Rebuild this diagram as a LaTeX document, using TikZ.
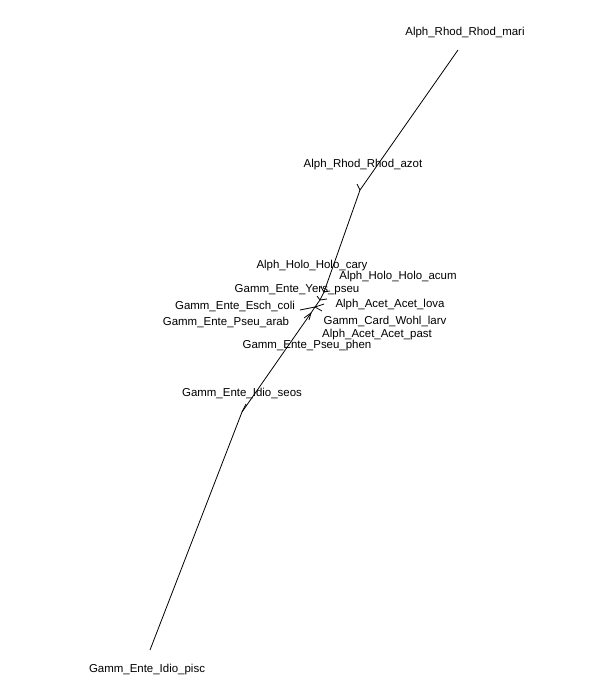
\documentclass[tikz,border=0pt]{standalone}
\usepackage{fontspec}
\setmainfont{Liberation Sans}

\tikzset{
  branch/.style={draw=black, line width=0.6pt},
  taxon/.style={inner sep=0pt, font=\fontsize{8.6}{10}\selectfont}
}

\begin{document}
\begin{tikzpicture}[x=0.75pt, y=-0.75pt]
\useasboundingbox (0,0) rectangle (608,700);
% internal nodes
\coordinate (nA) at (360,190);
\coordinate (nB) at (324,292);
\coordinate (nC) at (320,300);
\coordinate (nD) at (315,307);
\coordinate (nE) at (311,313);
\coordinate (nF) at (242,412);
% tips
\coordinate (mari) at (458,50);
\coordinate (azot) at (357,184);
\coordinate (cary) at (321,287);
\coordinate (acum) at (330,291);
\coordinate (yers) at (317,296);
\coordinate (lova) at (327,299);
\coordinate (wohl) at (324,304);
\coordinate (esch) at (300,310);
\coordinate (arab) at (304,318);
\coordinate (past) at (322,311);
\coordinate (phen) at (309,320);
\coordinate (seos) at (246,404);
\coordinate (pisc) at (150,650);
% labels
\node[taxon] (Lmari) at (465,33) {Alph\_Rhod\_Rhod\_mari};
\node[taxon] (Lazot) at (363,165) {Alph\_Rhod\_Rhod\_azot};
\node[taxon] (Lcary) at (312,266) {Alph\_Holo\_Holo\_cary};
\node[taxon] (Lacum) at (398,277) {Alph\_Holo\_Holo\_acum};
\node[taxon] (Lyers) at (297,290) {Gamm\_Ente\_Yers\_pseu};
\node[taxon] (Lesch) at (235,306) {Gamm\_Ente\_Esch\_coli};
\node[taxon] (Llova) at (390,305) {Alph\_Acet\_Acet\_lova};
\node[taxon] (Larab) at (226,322) {Gamm\_Ente\_Pseu\_arab};
\node[taxon] (Lwohl) at (385,321) {Gamm\_Card\_Wohl\_larv};
\node[taxon] (Lpast) at (377,335) {Alph\_Acet\_Acet\_past};
\node[taxon] (Lphen) at (307,346) {Gamm\_Ente\_Pseu\_phen};
\node[taxon] (Lseos) at (242,393) {Gamm\_Ente\_Idio\_seos};
\node[taxon] (Lpisc) at (147,670) {Gamm\_Ente\_Idio\_pisc};
% branches
\draw[branch] (mari) -- (nA) -- (nB) -- (nC) -- (nD) -- (nE);
\draw[branch] (nA) -- (azot);
\draw[branch] (nB) -- (cary);
\draw[branch] (nB) -- (acum);
\draw[branch] (nC) -- (yers);
\draw[branch] (nC) -- (lova);
\draw[branch] (nD) -- (wohl);
\draw[branch] (nD) -- (esch);
\draw[branch] (nE) -- (arab);
\draw[branch] (nD) -- (past);
\draw[branch] (nE) -- (phen);
\draw[branch] (nE) -- (nF) -- (pisc);
\draw[branch] (nF) -- (seos);
\end{tikzpicture}
\end{document}
